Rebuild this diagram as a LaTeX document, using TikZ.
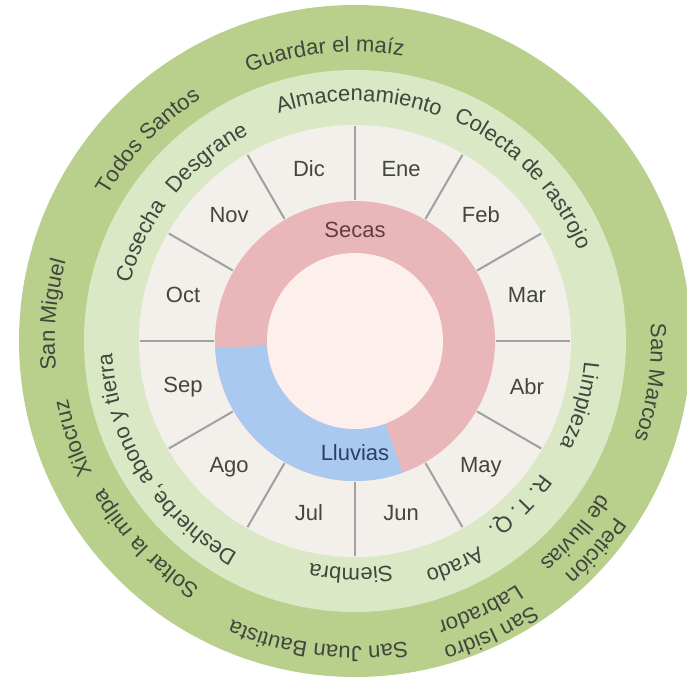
\documentclass[tikz,border=0pt]{standalone}
\usepackage{fontspec}
\setmainfont{Liberation Sans}
\usetikzlibrary{decorations.text}

\newlength\rfeast
\setlength\rfeast{336pt}
\newlength\rwork
\setlength\rwork{271pt}
\newlength\rmonth
\setlength\rmonth{216pt}
\newlength\rseason
\setlength\rseason{140pt}
\newlength\rcore
\setlength\rcore{88pt}

\definecolor{feastgreen}{RGB}{184,208,140}
\definecolor{workgreen}{RGB}{218,232,197}
\definecolor{monthbg}{RGB}{243,240,236}
\definecolor{drypink}{RGB}{233,182,186}
\definecolor{rainblue}{RGB}{170,201,240}
\definecolor{corepink}{RGB}{253,240,236}
\definecolor{divgray}{RGB}{160,160,160}
\definecolor{labelgray}{RGB}{66,70,62}

\newcommand\labelfont{\fontsize{22}{26}\selectfont}

% curved label: centre angle, baseline radius, text
\newcommand\ringlabel[3]{%
  \path[decorate, decoration={text along path, text align=center,
      text={|\labelfont\color{labelgray}|#3}}]
    (#1+80:#2) arc[start angle=#1+80, end angle=#1-80, radius=#2];}

\tikzset{
  month/.style={font=\labelfont, text=labelgray},
  season/.style={font=\labelfont},
  divider/.style={draw=divgray, line width=2pt}
}

\begin{document}
\begin{tikzpicture}
    \useasboundingbox (-355pt,-344pt) rectangle (332pt,341pt);
    \fill[white] (-355pt,-344pt) rectangle (332pt,341pt);

    % rings
    \fill[feastgreen] (0,0) circle[radius=\rfeast];
    \fill[workgreen] (0,0) circle[radius=\rwork];
    \fill[monthbg] (0,0) circle[radius=\rmonth];
    \fill[drypink] (0,0) circle[radius=\rseason];
    \fill[rainblue] (183:\rseason) arc[start angle=183, end angle=290, radius=\rseason]
      -- (290:\rcore) arc[start angle=290, end angle=183, radius=\rcore] -- cycle;
    \fill[corepink] (0,0) circle[radius=\rcore];

    % month dividers
    \foreach \a in {0,30,...,330} {
      \draw[divider] (\a:\rseason+1pt) -- (\a:\rmonth-1pt);
    }

    % months
    \foreach[count=\i] \m in {Ene,Feb,Mar,Abr,May,Jun,Jul,Ago,Sep,Oct,Nov,Dic} {
      \pgfmathsetmacro\a{105-30*\i}
      \node[month] (m\i) at (\a:178pt) {\m};
    }

    % seasons
    \node[season, text={rgb,255:red,96;green,62;blue,68}] (secas) at (0,111pt) {Secas};
    \node[season, text={rgb,255:red,44;green,62;blue,104}] (lluvias) at (0,-112pt) {Lluvias};

    % work ring
    \ringlabel{89}{240pt}{Almacenamiento}
    \ringlabel{44}{241pt}{Colecta de rastrojo}
    \ringlabel{-16}{230pt}{Limpieza}
    \ringlabel{-45}{229pt}{R. T. Q.}
    \ringlabel{-66}{240pt}{Arado}
    \ringlabel{-91}{227pt}{Siembra}
    \ringlabel{-148}{243pt}{Deshierbe, abono y tierra}
    \ringlabel{155}{232pt}{Cosecha}
    \ringlabel{129}{232pt}{Desgrane}

    % feast ring
    \ringlabel{96}{289pt}{Guardar el maíz}
    \ringlabel{136}{287pt}{Todos Santos}
    \ringlabel{175}{300pt}{San Miguel}
    \ringlabel{199}{293pt}{Xilocruz}
    \ringlabel{224}{291pt}{Soltar la milpa}
    \ringlabel{263}{305pt}{San Juan Bautista}
    \ringlabel{295}{318pt}{San Isidro}
    \ringlabel{295}{292pt}{Labrador}
    \ringlabel{319}{314pt}{Petición}
    \ringlabel{319}{288pt}{de lluvias}
    \ringlabel{352}{296pt}{San Marcos}
\end{tikzpicture}
\end{document}
